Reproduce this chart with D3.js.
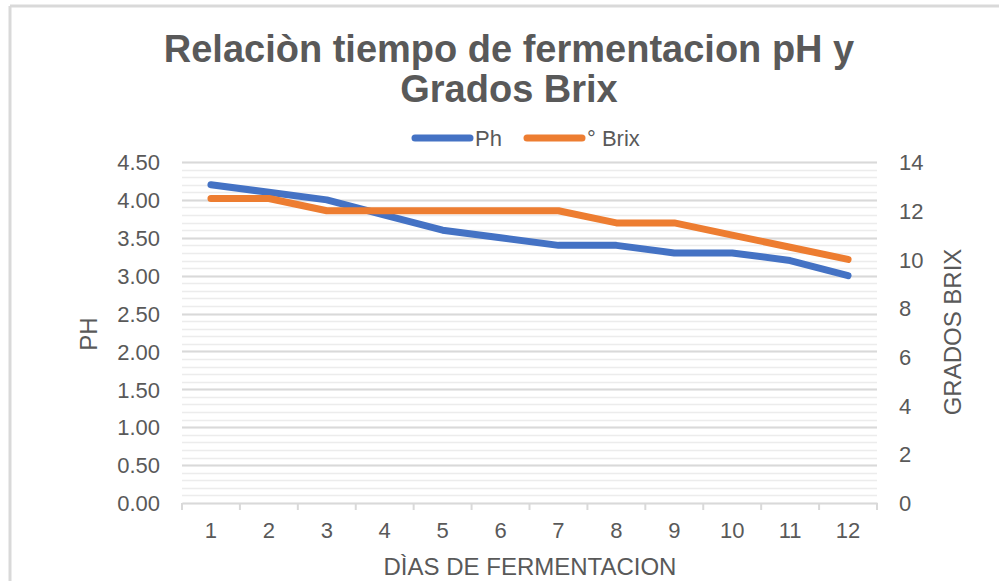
<!DOCTYPE html>
<html>
<head>
<meta charset="utf-8">
<script src="https://cdn.jsdelivr.net/npm/d3@7"></script>
<style>
  html, body { margin: 0; padding: 0; background: #fff; }
  svg { display: block; font-family: "Liberation Sans", Arial, sans-serif; }
</style>
</head>
<body>
<svg id="chart" width="999" height="581"></svg>
<script>
const days = ["1","2","3","4","5","6","7","8","9","10","11","12"];
const phValues = [4.2, 4.1, 4.0, 3.8, 3.6, 3.5, 3.4, 3.4, 3.3, 3.3, 3.2, 3.0];
const brixValues = [12.5, 12.5, 12, 12, 12, 12, 12, 11.5, 11.5, 11, 10.5, 10];
const leftTicks = [0, 0.5, 1, 1.5, 2, 2.5, 3, 3.5, 4, 4.5];
const rightTicks = [0, 2, 4, 6, 8, 10, 12, 14];
const minorTicks = d3.range(0, 4.5001, 0.1);
const titleLines = ["Relaciòn tiempo de fermentacion pH y", "Grados Brix"];
const seriesNames = ["Ph", "° Brix"];
const colors = ["#4472C4", "#ED7D31"];

const svg = d3.select("#chart");
const plotLeft = 182, plotRight = 877, plotTop = 162, plotBottom = 503;
const textColor = "#595959";
const tickFont = 22, titleFont = 24;

// frame
svg.append("line").attr("x1", 10).attr("x2", 999).attr("y1", 6).attr("y2", 6)
  .attr("stroke", "#d9d9d9").attr("stroke-width", 3);
svg.append("line").attr("x1", 10).attr("x2", 10).attr("y1", 6).attr("y2", 581)
  .attr("stroke", "#d9d9d9").attr("stroke-width", 3);

const x = d3.scaleBand().domain(days).range([plotLeft, plotRight]);
const yL = d3.scaleLinear().domain([0, 4.5]).range([plotBottom, plotTop]);
const yR = d3.scaleLinear().domain([0, 14]).range([plotBottom, plotTop]);

// minor gridlines
svg.append("g").selectAll("line").data(minorTicks).join("line")
  .attr("x1", plotLeft).attr("x2", plotRight)
  .attr("y1", d => Math.round(yL(d)) + 0.5).attr("y2", d => Math.round(yL(d)) + 0.5)
  .attr("stroke", "#ececec").attr("stroke-width", 1.5);
// major gridlines
svg.append("g").selectAll("line").data(leftTicks.slice(1)).join("line")
  .attr("x1", plotLeft).attr("x2", plotRight)
  .attr("y1", d => Math.round(yL(d)) + 0.5).attr("y2", d => Math.round(yL(d)) + 0.5)
  .attr("stroke", "#d9d9d9").attr("stroke-width", 2);

// x axis
const xAxis = d3.axisBottom(x).tickSize(0).tickPadding(0);
const gx = svg.append("g").attr("transform", `translate(0,${plotBottom})`).call(xAxis);
gx.select(".domain").attr("stroke", "#d9d9d9").attr("stroke-width", 2);
gx.selectAll(".tick text").attr("y", 35).attr("dy", 0).attr("fill", textColor)
  .attr("font-size", tickFont).attr("font-family", "Liberation Sans, Arial, sans-serif");
// band edge ticks
const edges = days.map(d => x(d)).concat([x(days[days.length - 1]) + x.bandwidth()]);
svg.append("g").selectAll("line").data(edges).join("line")
  .attr("x1", d => d).attr("x2", d => d).attr("y1", plotBottom).attr("y2", plotBottom + 7)
  .attr("stroke", "#d9d9d9").attr("stroke-width", 2);

// left axis
const gl = svg.append("g").attr("transform", `translate(${plotLeft},0)`)
  .call(d3.axisLeft(yL).tickValues(leftTicks).tickFormat(d3.format(".2f")).tickSize(0).tickPadding(22));
gl.select(".domain").remove();
gl.selectAll(".tick text").attr("fill", textColor).attr("font-size", tickFont)
  .attr("font-family", "Liberation Sans, Arial, sans-serif").attr("dy", "0.35em");

// right axis
const gr = svg.append("g").attr("transform", `translate(${plotRight},0)`)
  .call(d3.axisRight(yR).tickValues(rightTicks).tickSize(0).tickPadding(22));
gr.select(".domain").remove();
gr.selectAll(".tick text").attr("fill", textColor).attr("font-size", tickFont)
  .attr("font-family", "Liberation Sans, Arial, sans-serif").attr("dy", "0.35em");

// lines
const cx = d => x(d) + x.bandwidth() / 2;
const linePh = d3.line().x((d, i) => cx(days[i])).y(d => yL(d));
const lineBrix = d3.line().x((d, i) => cx(days[i])).y(d => yR(d));
svg.append("path").datum(phValues).attr("d", linePh).attr("fill", "none")
  .attr("stroke", colors[0]).attr("stroke-width", 7).attr("stroke-linecap", "round").attr("stroke-linejoin", "round");
svg.append("path").datum(brixValues).attr("d", lineBrix).attr("fill", "none")
  .attr("stroke", colors[1]).attr("stroke-width", 7).attr("stroke-linecap", "round").attr("stroke-linejoin", "round");

// title
svg.append("g").selectAll("text").data(titleLines).join("text")
  .attr("x", 509).attr("y", (d, i) => 62 + i * 40)
  .attr("text-anchor", "middle").attr("font-size", 38).attr("font-weight", "bold")
  .attr("fill", textColor).text(d => d);

// legend
const legendItems = [{x1: 415, x2: 470, tx: 475}, {x1: 527, x2: 582, tx: 587}];
legendItems.forEach((l, i) => {
  svg.append("line").attr("x1", l.x1).attr("x2", l.x2).attr("y1", 138).attr("y2", 138)
    .attr("stroke", colors[i]).attr("stroke-width", 7).attr("stroke-linecap", "round");
  svg.append("text").attr("x", l.tx).attr("y", 146).attr("font-size", 22)
    .attr("fill", textColor).text(seriesNames[i]);
});

// axis titles
svg.append("text").attr("transform", "translate(97,334) rotate(-90)")
  .attr("text-anchor", "middle").attr("font-size", titleFont).attr("fill", textColor).text("PH");
svg.append("text").attr("transform", "translate(961,332) rotate(-90)")
  .attr("text-anchor", "middle").attr("font-size", titleFont).attr("fill", textColor).text("GRADOS BRIX");
svg.append("text").attr("x", 530).attr("y", 575)
  .attr("text-anchor", "middle").attr("font-size", titleFont).attr("fill", textColor).text("DÌAS DE FERMENTACION");
</script>
</body>
</html>
